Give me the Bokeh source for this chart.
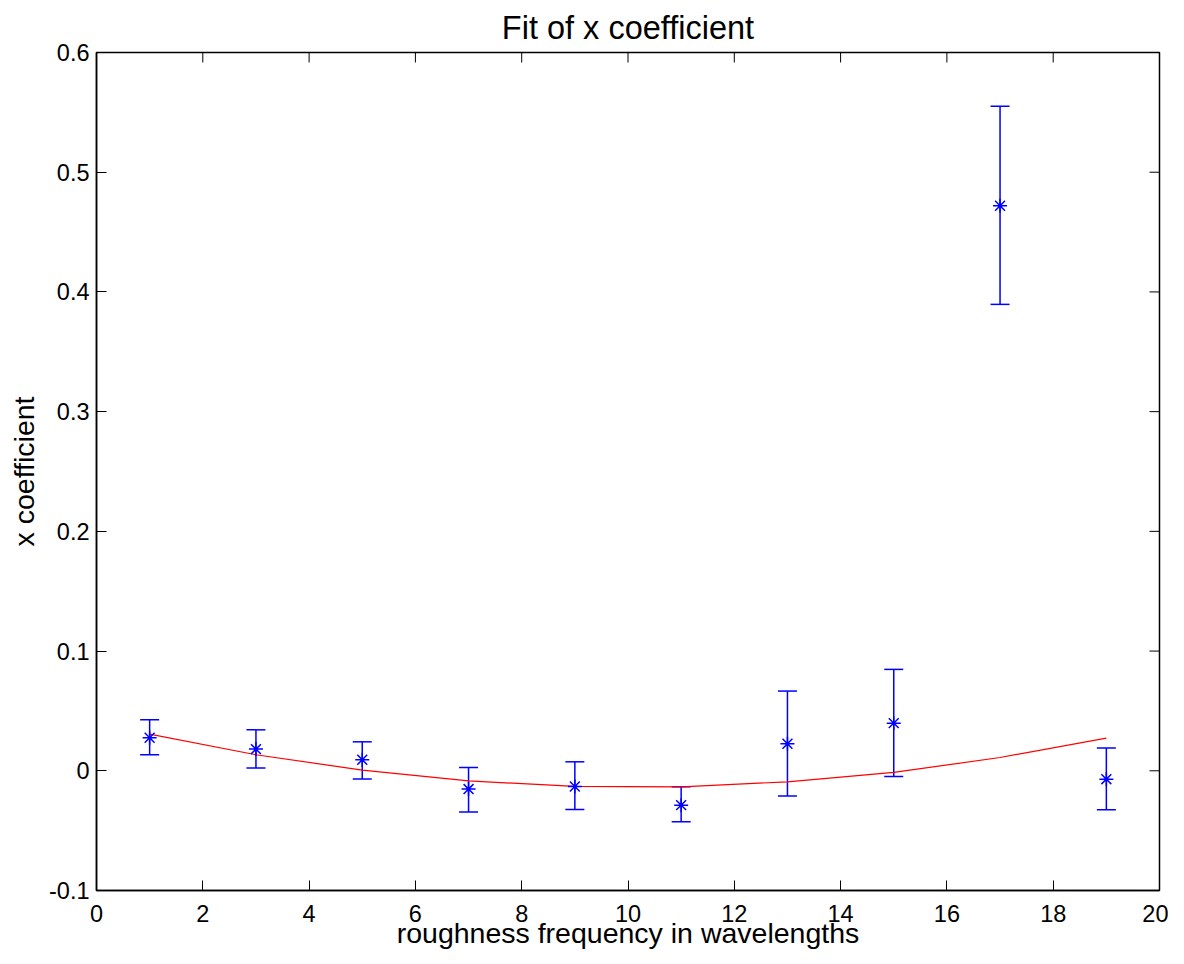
import math
from bokeh.plotting import figure
from bokeh.models import ColumnDataSource, Whisker, TeeHead, FixedTicker, Range1d
from bokeh.embed import file_html
from bokeh.resources import INLINE

# Data
freq = [1, 3, 5, 7, 9, 11, 13, 15, 17, 19]
coef = [0.0276, 0.0181, 0.0092, -0.0153, -0.0131, -0.0287, 0.0226, 0.0398, 0.472, -0.0070]
upper = [0.0426, 0.0342, 0.0242, 0.0028, 0.0075, -0.0134, 0.0666, 0.0847, 0.555, 0.0190]
lower = [0.0134, 0.0023, -0.0069, -0.0345, -0.0323, -0.0426, -0.0211, -0.0047, 0.3896, -0.0326]
fit = [0.0306, 0.0134, 0.0006, -0.0084, -0.0131, -0.0134, -0.0092, -0.0014, 0.0111, 0.0273]

xticks = [0, 2, 4, 6, 8, 10, 12, 14, 16, 18, 20]
yticks = [-0.1, 0.0, 0.1, 0.2, 0.3, 0.4, 0.5, 0.6]
ytick_labels = ["-0.1", "0", "0.1", "0.2", "0.3", "0.4", "0.5", "0.6"]
x_min, x_max = 0, 20
y_min, y_max = -0.1, 0.6

FONT = "Liberation Sans"

p = figure(frame_width=1063, frame_height=838,
           min_border_left=96, min_border_right=9, min_border_top=52, min_border_bottom=66,
           x_range=Range1d(x_min, x_max), y_range=Range1d(y_min, y_max),
           output_backend="svg", toolbar_location=None,
           title="Fit of x coefficient")
p.title.align = "center"
p.title.text_font = FONT
p.title.text_font_size = "32.5px"
p.title.text_font_style = "normal"
p.title.text_color = "black"
p.title.standoff = 13

p.xgrid.visible = False
p.ygrid.visible = False
p.outline_line_color = "black"
p.outline_line_width = 1.5

src = ColumnDataSource(dict(x=freq, y=coef, up=upper, lo=lower))

p.line(freq, fit, line_color="#ff0000", line_width=1.2)

w = Whisker(base="x", upper="up", lower="lo", source=src, dimension="height",
            line_color="#0000ff", line_width=1.5,
            upper_head=TeeHead(size=19, line_color="#0000ff", line_width=1.5),
            lower_head=TeeHead(size=19, line_color="#0000ff", line_width=1.5))
p.add_layout(w)

p.scatter("x", "y", source=src, marker="asterisk", size=14, line_color="#0000ff", line_width=1.5)

# mirrored inward tick marks on the top and right edges
p.ray(x=xticks, y=[y_max] * len(xticks), length=10, length_units="screen",
      angle=-math.pi / 2, line_color="black", line_width=1)
p.ray(x=[x_max] * len(yticks), y=yticks, length=10, length_units="screen",
      angle=math.pi, line_color="black", line_width=1)

xa = p.xaxis[0]
ya = p.yaxis[0]
xa.ticker = FixedTicker(ticks=xticks)
ya.ticker = FixedTicker(ticks=yticks)
ya.major_label_overrides = {v: s for v, s in zip(yticks, ytick_labels)}
xa.axis_label = "roughness frequency in wavelengths"
ya.axis_label = "x coefficient"
for ax in (xa, ya):
    ax.major_tick_in = 10
    ax.major_tick_out = 0
    ax.minor_tick_line_color = None
    ax.axis_line_color = "black"
    ax.axis_line_width = 1.5
    ax.major_tick_line_color = "black"
    ax.major_label_text_font = FONT
    ax.major_label_text_font_size = "23.5px"
    ax.major_label_text_color = "black"
    ax.axis_label_text_font = FONT
    ax.axis_label_text_font_size = "28.5px"
    ax.axis_label_text_font_style = "normal"
    ax.axis_label_text_color = "black"
xa.major_label_standoff = 14
xa.axis_label_standoff = -8
ya.major_label_standoff = 7
ya.axis_label_standoff = 6

open("out.html", "w").write(file_html(p, INLINE))
